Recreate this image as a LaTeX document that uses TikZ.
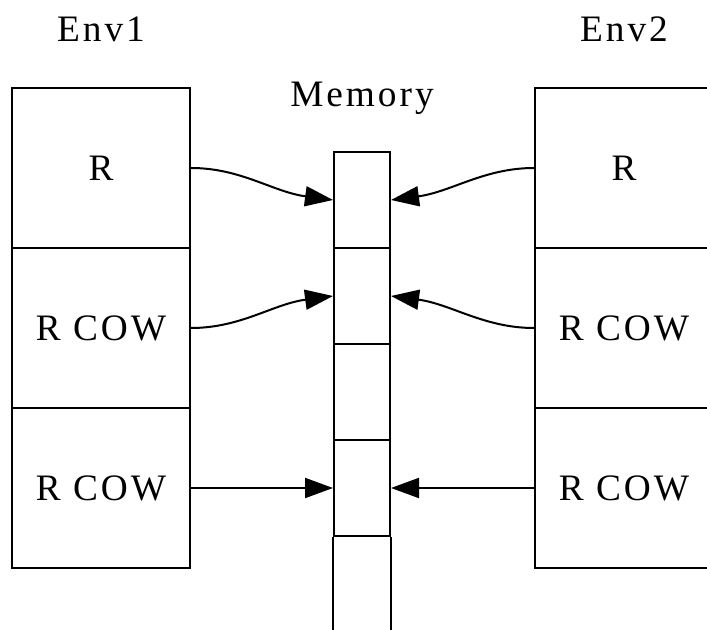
\documentclass[tikz,border=0pt]{standalone}
\usepackage{fontspec}
\setmainfont{Liberation Serif}[LetterSpace=8]
\usetikzlibrary{arrows.meta}
\begin{document}
\begin{tikzpicture}[x=0.75pt,y=-0.75pt,line width=1.5pt,
        font=\fontsize{28}{34}\selectfont,
        slot/.style={draw,minimum width=133.5pt,minimum height=120pt,inner sep=0pt},
        cell/.style={draw,minimum width=42pt,minimum height=72pt,inner sep=0pt},
        ref/.style={-{Triangle[length=21pt,width=15pt]}}]
        \useasboundingbox (0,0) rectangle (707,630);
        \node[anchor=base] (env1) at (101,42) {Env1};
        \node[anchor=base] (env2) at (624,42) {Env2};
        \node[anchor=base] (mem) at (362,107) {Memory};
        \node[slot] (e1a) at (101,168) {R};
        \node[slot] (e1b) at (101,328) {R COW};
        \node[slot] (e1c) at (101,488) {R COW};
        \node[slot] (e2a) at (624,168) {R};
        \node[slot] (e2b) at (624,328) {R COW};
        \node[slot] (e2c) at (624,488) {R COW};
        \foreach \i/\y in {1/200,2/296,3/392,4/488}
            \node[cell] (m\i) at (362,\y) {};
        \draw (m4.south west) -- ++(0,100) (m4.south east) -- ++(0,100);
        \draw[ref] (e1a.east) .. controls +(50,0) and +(-60,-8) .. (m1.west);
        \draw[ref] (e1b.east) .. controls +(50,0) and +(-60,8) .. (m2.west);
        \draw[ref] (e1c.east) -- (m4.west);
        \draw[ref] (e2a.west) .. controls +(-50,0) and +(60,-8) .. (m1.east);
        \draw[ref] (e2b.west) .. controls +(-50,0) and +(60,8) .. (m2.east);
        \draw[ref] (e2c.west) -- (m4.east);
    \end{tikzpicture}
\end{document}
